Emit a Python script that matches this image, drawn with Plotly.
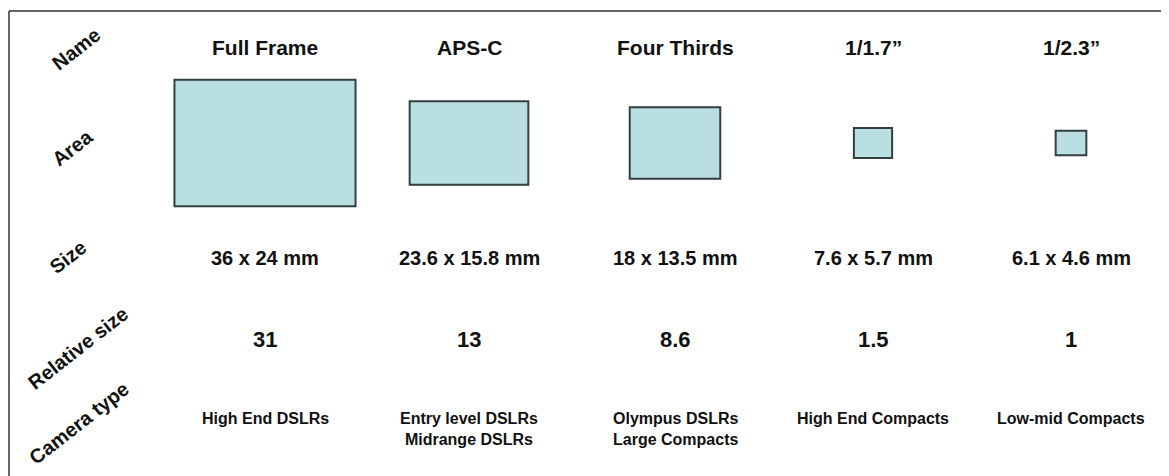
import plotly.graph_objects as go

# ---- data ----
names = ["Full Frame", "APS-C", "Four Thirds", "1/1.7\u201d", "1/2.3\u201d"]
width_mm = [36, 23.6, 18, 7.6, 6.1]
height_mm = [24, 15.8, 13.5, 5.7, 4.6]
size_labels = ["36 x 24 mm", "23.6 x 15.8 mm", "18 x 13.5 mm", "7.6 x 5.7 mm", "6.1 x 4.6 mm"]
relative_size = ["31", "13", "8.6", "1.5", "1"]
camera_type = ["High End DSLRs", "Entry level DSLRs<br>Midrange DSLRs",
               "Olympus DSLRs<br>Large Compacts", "High End Compacts", "Low-mid Compacts"]
row_labels = ["Name", "Area", "Size", "Relative size", "Camera type"]

# ---- layout constants ----
W, H = 1169, 476
OFF = 8  # page body margin
col_x = [265, 469, 675, 873, 1071]
row_label_pos = [(76, 49), (72, 148), (68, 257), (78, 348), (79, 423)]
y_name, y_area, y_size, y_rel, y_cam = 47, 143, 258, 339, 408
sx, sy = 5.03, 5.28  # px per mm
FONT = "Arial, Liberation Sans, sans-serif"
TXT = "#111111"

fig = go.Figure()
fig.add_trace(go.Scatter(x=[OFF, W], y=[OFF, H], mode="markers",
                         marker=dict(opacity=0), hoverinfo="skip", showlegend=False))

shapes = []
shapes.append(dict(type="line", xref="x", yref="y", x0=9, x1=W + OFF, y0=11, y1=11,
                   line=dict(color="#333333", width=1.5)))
shapes.append(dict(type="line", xref="x", yref="y", x0=9, x1=9, y0=11, y1=H + OFF,
                   line=dict(color="#333333", width=1.5)))
for cx, w, h in zip(col_x, width_mm, height_mm):
    shapes.append(dict(type="rect", xref="x", yref="y",
                       x0=cx - w * sx / 2, x1=cx + w * sx / 2,
                       y0=y_area - h * sy / 2, y1=y_area + h * sy / 2,
                       fillcolor="#b9dfe2", line=dict(color="#333f40", width=2)))

ann = []
for (lx, ly), lab in zip(row_label_pos, row_labels):
    ann.append(dict(x=lx, y=ly, xref="x", yref="y", text=lab, showarrow=False,
                    textangle=-38, xanchor="center", yanchor="middle",
                    font=dict(family=FONT, size=20, color=TXT, weight="bold")))
for i, cx in enumerate(col_x):
    ann.append(dict(x=cx, y=y_name, xref="x", yref="y", text=names[i], showarrow=False,
                    font=dict(family=FONT, size=21, color=TXT, weight="bold")))
    ann.append(dict(x=cx, y=y_size, xref="x", yref="y", text=size_labels[i], showarrow=False,
                    font=dict(family=FONT, size=20, color=TXT, weight="bold")))
    ann.append(dict(x=cx, y=y_rel, xref="x", yref="y", text=relative_size[i], showarrow=False,
                    font=dict(family=FONT, size=22, color=TXT, weight="bold")))
    ann.append(dict(x=cx, y=y_cam, xref="x", yref="y", text=camera_type[i], showarrow=False,
                    yanchor="top",
                    font=dict(family=FONT, size=16, color=TXT, weight="bold")))

fig.update_layout(
    width=W, height=H, margin=dict(l=0, r=0, t=0, b=0),
    paper_bgcolor="white", plot_bgcolor="white",
    xaxis=dict(range=[OFF, W + OFF], visible=False, fixedrange=True),
    yaxis=dict(range=[H + OFF, OFF], visible=False, fixedrange=True),
    shapes=shapes, annotations=ann, showlegend=False,
)
fig.write_html("out.html", config={"displayModeBar": False})
